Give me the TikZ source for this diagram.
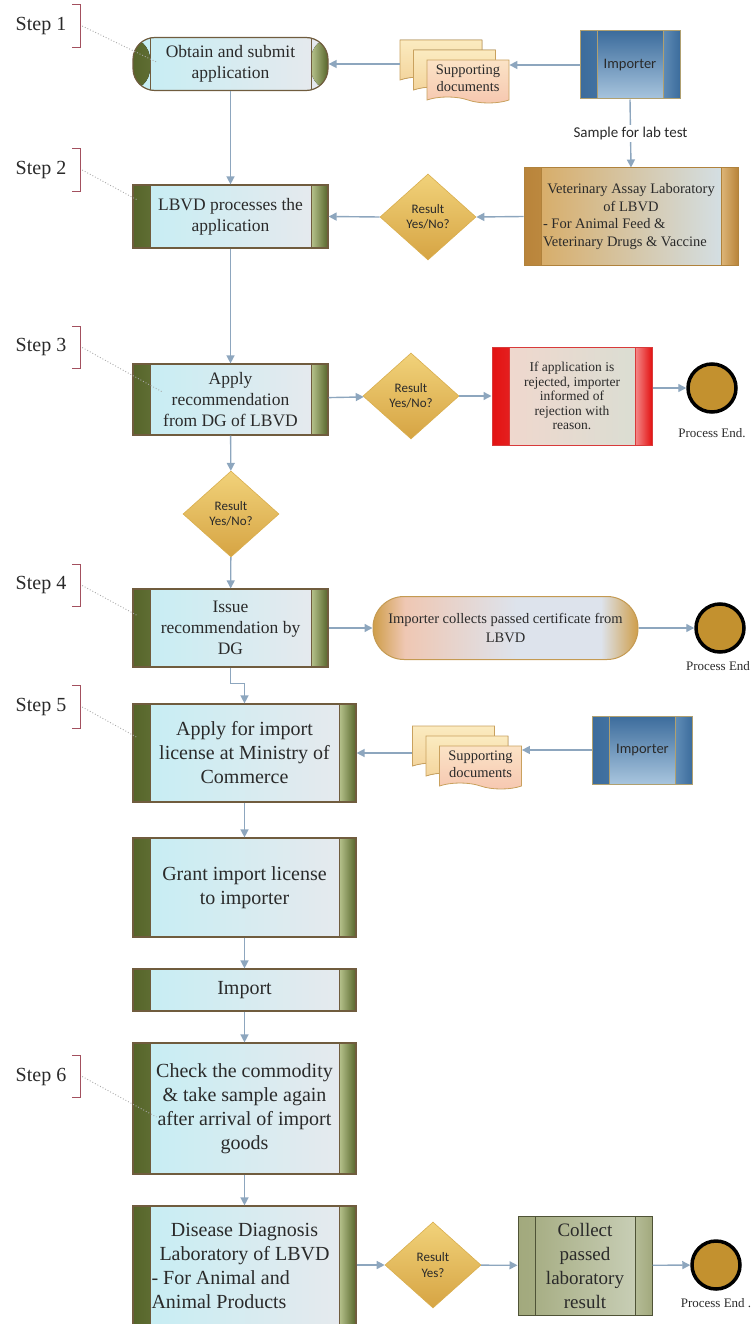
\documentclass[tikz,border=0pt]{standalone}
\usepackage{fontspec}
\setmainfont{Liberation Serif}
\newfontfamily\sansfont{Carlito}
\usetikzlibrary{arrows.meta,shapes.geometric,shapes.symbols,shadows}
\setlength{\parindent}{0pt}

\definecolor{textdark}{HTML}{2A2A2A}
\definecolor{flowblue}{HTML}{8DA6BE}
\definecolor{boxcyan}{HTML}{C5EEF4}
\definecolor{boxgrey}{HTML}{E8E9ED}
\definecolor{olivedark}{HTML}{56652A}
\definecolor{olivelight}{HTML}{B8C48E}
\definecolor{boxedge}{HTML}{705C3E}
\definecolor{impdark}{HTML}{3C6C9C}
\definecolor{impmid}{HTML}{5F8CB6}
\definecolor{implight}{HTML}{A8C5DE}
\definecolor{impedge}{HTML}{B0A070}
\definecolor{docedge}{HTML}{C9A15E}
\definecolor{docback1}{HTML}{FBEBC0}
\definecolor{docback2}{HTML}{F3D39A}
\definecolor{docfront1}{HTML}{FBE3C6}
\definecolor{docfront2}{HTML}{F6C7B0}
\definecolor{vetedge}{HTML}{B0823C}
\definecolor{vetbar1}{HTML}{B9843A}
\definecolor{vetbar2}{HTML}{DDB679}
\definecolor{vetgold}{HTML}{D8A95F}
\definecolor{vetmid}{HTML}{F1E6DC}
\definecolor{vetblue}{HTML}{D3E3EE}
\definecolor{decedge}{HTML}{D9AE4E}
\definecolor{decgold1}{HTML}{F1D27A}
\definecolor{decgold2}{HTML}{D6A443}
\definecolor{redbar1}{HTML}{E31212}
\definecolor{redbar2}{HTML}{F48A8A}
\definecolor{rededge}{HTML}{D83A3A}
\definecolor{redpink}{HTML}{F2D7CD}
\definecolor{redgrey}{HTML}{D8DED3}
\definecolor{endgold}{HTML}{C3912F}
\definecolor{pillgold}{HTML}{CF9E4A}
\definecolor{pillpeach}{HTML}{EFC7B3}
\definecolor{pillblue}{HTML}{DDE3EC}
\definecolor{pilledge}{HTML}{C49A52}
\definecolor{collectedge}{HTML}{4F5336}
\definecolor{collectA}{HTML}{A2A97D}
\definecolor{collectB}{HTML}{CDD3BD}
\definecolor{collectbar}{HTML}{B5BC97}
\definecolor{bracketred}{HTML}{A3505E}
\definecolor{dotgrey}{HTML}{A8A8A8}

\pgfdeclarehorizontalshading{pillshade}{100bp}{color(0bp)=(pillgold); color(25bp)=(pillgold); color(31bp)=(pillpeach); color(52bp)=(pillblue); color(68bp)=(pillblue); color(75bp)=(pillgold); color(100bp)=(pillgold)}

\tikzset{
  sidebars/.style n args={3}{path picture={
    \fill[left color=#1, right color=#2]
      (path picture bounding box.south west) rectangle ([xshift=17pt]path picture bounding box.north west);
    \fill[left color=#2, right color=#1]
      ([xshift=-17pt]path picture bounding box.south east) rectangle (path picture bounding box.north east);
    \draw[#3, line width=0.9pt]
      ([xshift=17pt]path picture bounding box.south west) -- ([xshift=17pt]path picture bounding box.north west)
      ([xshift=-17pt]path picture bounding box.south east) -- ([xshift=-17pt]path picture bounding box.north east);
  }},
  stepbox/.style={rectangle, draw=boxedge, line width=1.2pt, left color=boxcyan, right color=boxgrey,
    sidebars={olivedark}{olivelight}{boxedge}, text=textdark, align=center, inner sep=0pt,
    font=\fontsize{17.5}{21}\selectfont},
  bigbox/.style={stepbox, minimum width=223, font=\fontsize{20}{24}\selectfont},
  impbox/.style={rectangle, draw=impedge, line width=1pt, top color=impdark, bottom color=implight,
    sidebars={impdark}{impmid}{impedge}, text=textdark, minimum width=100, minimum height=68,
    font=\sansfont\fontsize{14.5}{17}\selectfont},
  docs/.style={tape, tape bend top=none, tape bend bottom=out and in, tape bend height=6pt,
    draw=docedge, line width=0.8pt, top color=docfront1, bottom color=docfront2,
    copy shadow={shadow xshift=-27pt, shadow yshift=20pt, draw=docedge, top color=docback1, bottom color=docback2},
    copy shadow={shadow xshift=-13.5pt, shadow yshift=10pt, draw=docedge, top color=docback1, bottom color=docback2},
    minimum width=82, minimum height=43, inner sep=1pt, align=center, text=textdark,
    font=\fontsize{14.5}{17}\selectfont},
  decision/.style={diamond, draw=decedge, line width=0.6pt, top color=decgold1, bottom color=decgold2,
    inner sep=0pt, minimum width=96, minimum height=86, align=center, text=textdark,
    font=\sansfont\fontsize{13}{15.5}\selectfont},
  vetbox/.style={rectangle, draw=vetedge, line width=1pt, left color=vetgold, middle color=vetmid, right color=vetblue,
    sidebars={vetbar1}{vetbar2}{vetedge}, text=textdark, minimum width=214, minimum height=97,
    align=left, inner sep=0pt, font=\fontsize{14.5}{17.5}\selectfont},
  rejectbox/.style={rectangle, draw=rededge, line width=1pt, left color=redpink, right color=redgrey,
    sidebars={redbar1}{redbar2}{rededge}, text=textdark, minimum width=160, minimum height=98,
    align=center, inner sep=0pt, font=\fontsize{13.5}{14.5}\selectfont},
  collectbox/.style={rectangle, draw=collectedge, line width=1pt, left color=collectA, right color=collectB,
    sidebars={collectA}{collectbar}{collectedge}, text=textdark, minimum width=134, minimum height=99,
    align=center, inner sep=0pt, font=\fontsize{19}{24}\selectfont},
  pill/.style={rectangle, rounded corners=31pt, draw=pilledge, line width=1pt, shade, shading=pillshade,
    minimum width=265, minimum height=63, align=center, text=textdark, font=\fontsize{14.5}{19}\selectfont},
  endnode/.style={circle, draw=black, line width=3.5pt, fill=endgold, minimum size=48, inner sep=0pt},
  endtext/.style={text=textdark, font=\fontsize{13}{15}\selectfont},
  steplbl/.style={minimum width=78, minimum height=42, inner sep=0pt, text=textdark,
    font=\fontsize{20}{24}\selectfont},
  brack/.style={draw=bracketred, line width=1.2pt},
  stepdots/.style={draw=dotgrey, dotted, line width=0.9pt},
  flow/.style={draw=flowblue, line width=1.4pt, -{Triangle[length=8pt, width=8pt]}},
}

\begin{document}
\begin{tikzpicture}[x=1pt, y=-1pt]
  \useasboundingbox (0,0) rectangle (754,1324);

  % main column
  \node[stepbox, minimum width=195, minimum height=53, rounded corners=22pt] (obtain) at (230.5,64) {Obtain and submit\\application};
  \node[stepbox, minimum width=195, minimum height=63] (lbvd) at (230.5,216.5) {LBVD processes the\\application};
  \node[stepbox, minimum width=195, minimum height=71] (applyrec) at (230.5,399.5) {Apply\\recommendation\\from DG of LBVD};
  \node[decision] (dec1) at (231,514) {Result\\Yes/No?};
  \node[stepbox, minimum width=195, minimum height=78] (issue) at (230.5,628) {Issue\\recommendation by\\DG};
  \node[bigbox, minimum height=98] (applylic) at (244.5,753) {Apply for import\\license at Ministry of\\Commerce};
  \node[bigbox, minimum height=99] (grant) at (244.5,887.5) {Grant import license\\to importer};
  \node[bigbox, minimum height=42] (import) at (244.5,990) {Import};
  \node[bigbox, minimum height=131] (check) at (244.5,1108.5) {Check the commodity\\\& take sample again\\after arrival of import\\goods};
  \node[bigbox, minimum height=120, align=left] (disease) at (244.5,1266)
    {\makebox[186pt][c]{Disease Diagnosis}\\\makebox[186pt][c]{Laboratory of LBVD}\\- For Animal and\\Animal Products};

  % right side
  \node[impbox] (imp1) at (630,65) {Importer};
  \node[docs] (docs1) at (468,78.5) {Supporting\\documents};
  \coordinate (docs1b) at ([xshift=-27pt]docs1.west);
  \node[vetbox] (vet) at (631,216.5)
    {\makebox[176pt][c]{Veterinary Assay Laboratory}\\\makebox[176pt][c]{of LBVD}\\- For Animal Feed \&\\Veterinary Drugs \& Vaccine};
  \node[decision] (dec2) at (428,217) {Result\\Yes/No?};

  \node[decision] (dec3) at (411,396) {Result\\Yes/No?};
  \node[rejectbox] (reject) at (572,396) {If application is\\rejected, importer\\informed of\\rejection with\\reason.};
  \node[endnode] (end1) at (712,388) {};
  \node[endtext] (end1t) at (712,433) {Process End.};

  \node[pill] (pill) at (505.5,628) {Importer collects passed certificate from\\LBVD};
  \node[endnode] (end2) at (720,628) {};
  \node[endtext] (end2t) at (718,666) {Process End};

  \node[impbox] (imp2) at (642.5,750) {Importer};
  \node[docs] (docs2) at (480.5,764.5) {Supporting\\documents};
  \coordinate (docs2b) at ([xshift=-27pt]docs2.west);

  \node[decision] (dec4) at (433,1265) {Result\\Yes?};
  \node[collectbox] (collect) at (585,1265.5) {Collect\\passed\\laboratory\\result};
  \node[endnode] (end3) at (716,1265) {};
  \node[endtext] (end3t) at (716,1303) {Process End .};

  % step labels
  \node[steplbl] (s1) at (41,26) {Step 1};
  \node[steplbl] (s2) at (41,170) {Step 2};
  \node[steplbl] (s3) at (41,347.5) {Step 3};
  \node[steplbl] (s4) at (41,585.5) {Step 4};
  \node[steplbl] (s5) at (41,707) {Step 5};
  \node[steplbl] (s6) at (41,1076.5) {Step 6};
  \draw[brack] ([xshift=-8pt]s1.north east) -- (s1.north east) -- (s1.south east) -- ([xshift=-8pt]s1.south east);
  \draw[brack] ([xshift=-8pt]s2.north east) -- (s2.north east) -- (s2.south east) -- ([xshift=-8pt]s2.south east);
  \draw[brack] ([xshift=-8pt]s3.north east) -- (s3.north east) -- (s3.south east) -- ([xshift=-8pt]s3.south east);
  \draw[brack] ([xshift=-8pt]s4.north east) -- (s4.north east) -- (s4.south east) -- ([xshift=-8pt]s4.south east);
  \draw[brack] ([xshift=-8pt]s5.north east) -- (s5.north east) -- (s5.south east) -- ([xshift=-8pt]s5.south east);
  \draw[brack] ([xshift=-8pt]s6.north east) -- (s6.north east) -- (s6.south east) -- ([xshift=-8pt]s6.south east);
  \draw[stepdots] ([xshift=2pt]s1.east) -- ([shift={(24,-2)}]obtain.west);
  \draw[stepdots] ([xshift=2pt]s2.east) -- ([shift={(5,-16.5)}]lbvd.west);
  \draw[stepdots] ([xshift=2pt]s3.east) -- ([shift={(30,-7.5)}]applyrec.west);
  \draw[stepdots] ([xshift=2pt]s4.east) -- ([shift={(4,-13)}]issue.west);
  \draw[stepdots] ([xshift=2pt]s5.east) -- ([shift={(4,-16)}]applylic.west);
  \draw[stepdots] ([xshift=2pt]s6.east) -- ([shift={(24,8.5)}]check.west);

  % connectors
  \draw[flow] (imp1.west) -- (imp1.west -| docs1.east);
  \draw[flow] (docs1b |- obtain.east) -- (obtain.east);
  \draw[flow] (imp1.south) -- node[fill=white, inner sep=2pt, text=textdark, font=\sansfont\fontsize{15}{17}\selectfont] {Sample for lab test} (vet.north);
  \draw[flow] (vet.west) -- (dec2.east);
  \draw[flow] (dec2.west) -- (lbvd.east);
  \draw[flow] (obtain) -- (lbvd);
  \draw[flow] (lbvd) -- (applyrec);
  \draw[flow] (applyrec) -- (dec3);
  \draw[flow] (dec3) -- (reject);
  \draw[flow] (reject.east |- end1) -- (end1);
  \draw[flow] (applyrec) -- (dec1);
  \draw[flow] (dec1) -- (issue);
  \draw[flow] (issue) -- (pill);
  \draw[flow] (pill) -- (end2);
  \draw[flow] (issue.south) -- ++(0,16) -| (applylic.north);
  \draw[flow] (imp2.west) -- (imp2.west -| docs2.east);
  \draw[flow] (docs2b |- applylic.east) -- (applylic.east);
  \draw[flow] (applylic) -- (grant);
  \draw[flow] (grant) -- (import);
  \draw[flow] (import) -- (check);
  \draw[flow] (check) -- (disease);
  \draw[flow] (disease.east |- dec4.west) -- (dec4.west);
  \draw[flow] (dec4) -- (collect);
  \draw[flow] (collect) -- (end3);
\end{tikzpicture}
\end{document}
